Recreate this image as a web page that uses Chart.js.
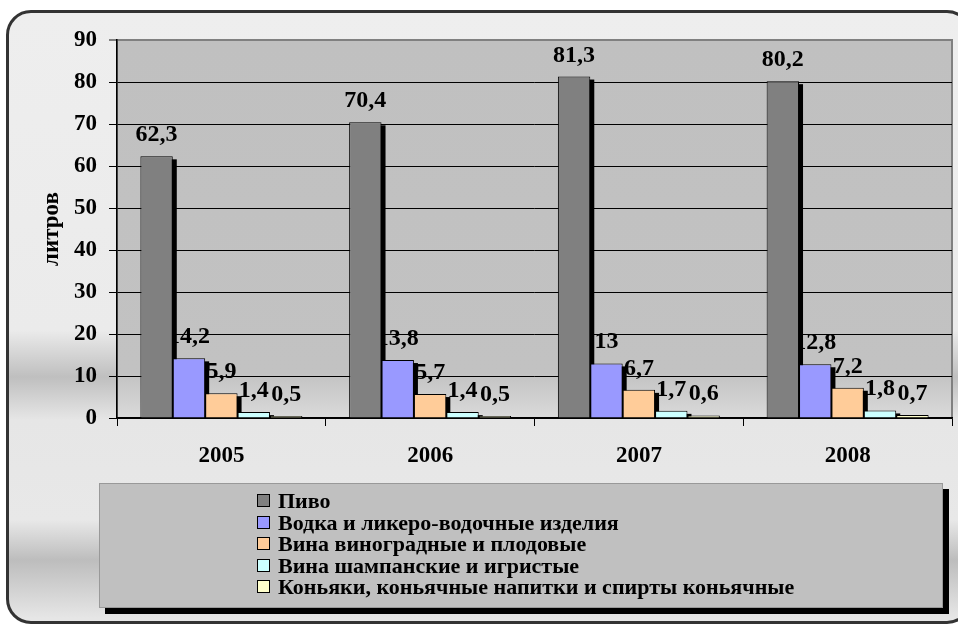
<!DOCTYPE html>
<html>
<head>
<meta charset="utf-8">
<script src="https://cdn.jsdelivr.net/npm/chart.js@4.4.0/dist/chart.umd.min.js"></script>
<style>
  html, body { margin: 0; padding: 0; background: #fff; }
  body { width: 958px; height: 625px; position: relative; overflow: hidden; font-family: "Liberation Serif", "Times New Roman", serif; }
  .frame {
    position: absolute; left: 6px; top: 10px; width: 960px; height: 608px;
    border: 3px solid #333; border-radius: 25px;
    background: linear-gradient(to bottom, #eeeeee 0px, #ebebeb 317px, #bfbfbf 364px, #e6e6e6 407px,
      #e8e8e8 507px, #bdbdbd 547px, #e6e6e6 605px);
  }
  #chart { position: absolute; left: 0; top: 0; }
  .legend {
    position: absolute; left: 99px; top: 483px;
    background: #c0c0c0; border: 1px solid #999; box-shadow: 6px 6px 0 #000;
    padding: 6px 0 0 157px; box-sizing: border-box; width: 844px; height: 125px;
  }
  .legend-item { height: 21.5px; line-height: 21.5px; font-size: 22px; font-weight: bold; color: #000; white-space: nowrap; }
  .legend-item .sw { display: inline-block; width: 11px; height: 11px; border: 1px solid #000; vertical-align: top; margin-top: 4px; margin-right: 8px; }
</style>
</head>
<body>
<div class="frame"></div>
<canvas id="chart" width="958" height="625"></canvas>
<div class="legend" id="legend"></div>
<script>
// ---- data ----
const years = ['2005', '2006', '2007', '2008'];
const seriesNames = [
    'Пиво',
    'Водка и ликеро-водочные изделия',
    'Вина виноградные и плодовые',
    'Вина шампанские и игристые',
    'Коньяки, коньячные напитки и спирты коньячные'
];
const pivo = [62.3, 70.4, 81.3, 80.2];
const vodka = [14.2, 13.8, 13, 12.8];
const vinaVinogr = [5.9, 5.7, 6.7, 7.2];
const vinaShamp = [1.4, 1.4, 1.7, 1.8];
const konyaki = [0.5, 0.5, 0.6, 0.7];
const yTicksMax = 90;
const yStep = 10;

const colors = ['#808080', '#9999ff', '#ffcc99', '#ccffff', '#ffffcc'];
const seriesValues = [pivo, vodka, vinaVinogr, vinaShamp, konyaki];
const FONT = '"Liberation Serif", "Times New Roman", serif';

// plot area background + gray border
const plotBg = {
    id: 'plotBg',
    beforeDraw(chart) {
        const { ctx, chartArea: a } = chart;
        ctx.save();
        const g = ctx.createLinearGradient(0, a.top, 0, a.bottom);
        g.addColorStop(0, '#c0c0c0');
        g.addColorStop(0.88, '#c2c2c2');
        g.addColorStop(1, '#dadada');
        ctx.fillStyle = g;
        ctx.fillRect(a.left, a.top, a.width, a.height);
        ctx.strokeStyle = '#808080';
        ctx.lineWidth = 2;
        ctx.strokeRect(a.left, a.top, a.width, a.height);
        ctx.restore();
    }
};

// value labels (drawn under the bars, like the original) and bar shadows
const labelsAndShadows = {
    id: 'labelsAndShadows',
    beforeDatasetsDraw(chart) {
        const { ctx, chartArea: a } = chart;
        ctx.save();
        ctx.font = 'bold 24px ' + FONT;
        ctx.fillStyle = '#000';
        ctx.textAlign = 'center';
        ctx.textBaseline = 'alphabetic';
        chart.data.datasets.forEach((ds, i) => {
            chart.getDatasetMeta(i).data.forEach((bar, j) => {
                ctx.fillText(String(ds.data[j]).replace('.', ','), bar.x, bar.y - 15);
            });
        });
        ctx.beginPath();
        ctx.rect(a.left, a.top, a.width, a.height);
        ctx.clip();
        ctx.fillStyle = '#000';
        chart.data.datasets.forEach((ds, i) => {
            chart.getDatasetMeta(i).data.forEach(bar => {
                ctx.fillRect(bar.x - bar.width / 2 + 4, bar.y + 3, bar.width, bar.base - bar.y);
            });
        });
        ctx.restore();
    }
};

const chart = new Chart(document.getElementById('chart'), {
    type: 'bar',
    data: {
        labels: years,
        datasets: seriesNames.map((name, i) => ({
            label: name,
            data: seriesValues[i],
            backgroundColor: colors[i],
            borderColor: '#000',
            borderWidth: 1,
            barPercentage: 1,
            categoryPercentage: 0.776
        }))
    },
    options: {
        responsive: false,
        animation: false,
        devicePixelRatio: 1,
        layout: { padding: { left: 0, right: 6, top: 40, bottom: 147 } },
        plugins: {
            legend: { display: false },
            tooltip: { enabled: false }
        },
        scales: {
            x: {
                grid: { drawOnChartArea: false, drawTicks: true, tickLength: 8, color: '#000', lineWidth: 1 },
                border: { color: '#000', width: 1.5 },
                ticks: { color: '#000', font: { family: FONT, size: 23, weight: 'bold' }, padding: 16 },
                afterFit(s) { s.height = 60; }
            },
            y: {
                min: 0,
                max: yTicksMax,
                ticks: { stepSize: yStep, color: '#000', font: { family: FONT, size: 23, weight: 'bold' }, padding: 12 },
                grid: {
                    color: c => (c.tick && c.tick.value === yTicksMax ? '#808080' : '#000'),
                    lineWidth: c => (c.tick && c.tick.value === yTicksMax ? 2 : 1),
                    tickLength: 8
                },
                border: { color: '#000', width: 1.5 },
                title: {
                    display: true,
                    text: 'литров',
                    color: '#000',
                    font: { family: FONT, size: 23, weight: 'bold' },
                    padding: { top: 38, bottom: 0 }
                },
                afterFit(s) { s.width = 117; }
            }
        }
    },
    plugins: [plotBg, labelsAndShadows]
});

// legend
const legendEl = document.getElementById('legend');
legendEl.innerHTML = chart.data.datasets.map(ds =>
    `<div class="legend-item"><span class="sw" style="background:${ds.backgroundColor}"></span>${ds.label}</div>`
).join('');
</script>
</body>
</html>
